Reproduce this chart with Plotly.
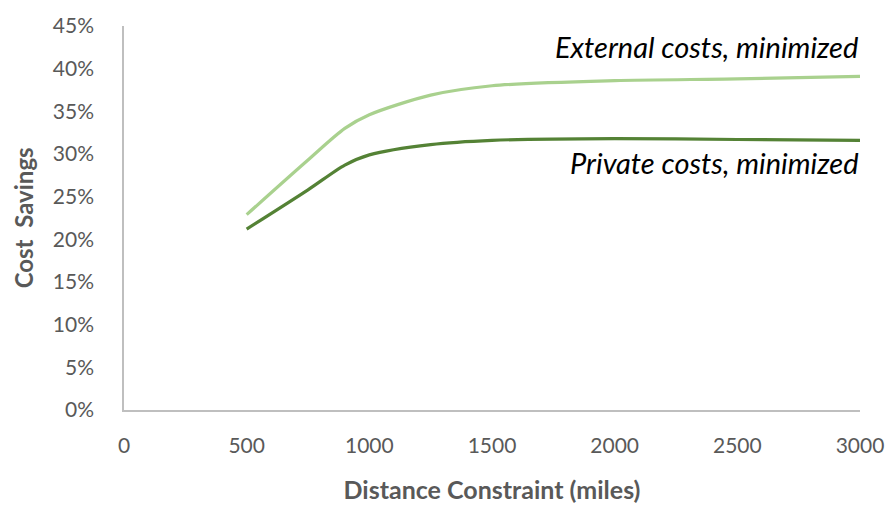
import plotly.graph_objects as go

# Distance constraint (miles) and cost savings (fraction) for the two scenarios
distance = [500, 750, 900, 1000, 1250, 1500, 2000, 2500, 3000]
external_savings = [0.229, 0.293, 0.330, 0.346, 0.369, 0.380, 0.386, 0.388, 0.391]
private_savings = [0.212, 0.258, 0.287, 0.299, 0.311, 0.316, 0.318, 0.317, 0.316]

x_ticks = [0, 500, 1000, 1500, 2000, 2500, 3000]
y_ticks = [0, 0.05, 0.10, 0.15, 0.20, 0.25, 0.30, 0.35, 0.40, 0.45]

FONT = "Lato, Carlito, 'Liberation Sans', sans-serif"
AXIS_GRAY = "#bfbfbf"
TEXT_GRAY = "#595959"

WIDTH, HEIGHT = 896, 512
MARGIN = dict(l=124, r=26, t=18, b=100)
plot_w = WIDTH - MARGIN["l"] - MARGIN["r"]

fig = go.Figure()
fig.add_trace(go.Scatter(
    x=distance, y=external_savings, mode="lines",
    line=dict(color="#a9d18e", width=3.2, shape="spline", smoothing=0.8),
    name="External costs, minimized", hoverinfo="skip",
))
fig.add_trace(go.Scatter(
    x=distance, y=private_savings, mode="lines",
    line=dict(color="#548235", width=3.2, shape="spline", smoothing=0.8),
    name="Private costs, minimized", hoverinfo="skip",
))

# Series labels, placed at the right end of each line
fig.add_annotation(
    x=1.0, y=external_savings[-1] + 0.035, xref="paper", yref="y",
    text="<i>External costs, minimized</i>", showarrow=False,
    xanchor="right", yanchor="middle",
    font=dict(family=FONT, size=29, color="#000000"),
)
fig.add_annotation(
    x=1.0, y=private_savings[-1] - 0.026, xref="paper", yref="y",
    text="<i>Private costs, minimized</i>", showarrow=False,
    xanchor="right", yanchor="middle",
    font=dict(family=FONT, size=29, color="#000000"),
)

# Vertical axis title
fig.add_annotation(
    x=-(MARGIN["l"] - 22) / plot_w, y=0.5, xref="paper", yref="paper",
    text="<b>Cost&nbsp;&nbsp;Savings</b>", showarrow=False, textangle=-90,
    xanchor="center", yanchor="middle",
    font=dict(family=FONT, size=24, color=TEXT_GRAY),
)

fig.update_xaxes(
    range=[0, 3000], tickvals=x_ticks, ticktext=[str(v) for v in x_ticks],
    showgrid=False, zeroline=False, showline=True, linecolor=AXIS_GRAY, linewidth=1.5,
    ticks="", ticklabelstandoff=16, ticklabeloverflow="allow",
    tickfont=dict(family=FONT, size=21, color=TEXT_GRAY),
    title=dict(text="<b>Distance Constraint (miles)</b>", standoff=26,
               font=dict(family=FONT, size=25, color=TEXT_GRAY)),
)
fig.update_yaxes(
    range=[0, 0.45], tickvals=y_ticks, tickformat=".0%",
    showgrid=False, zeroline=False, showline=True, linecolor=AXIS_GRAY, linewidth=1.5,
    ticks="", ticklabelstandoff=24,
    tickfont=dict(family=FONT, size=21, color=TEXT_GRAY),
)

fig.update_layout(
    width=WIDTH, height=HEIGHT,
    margin=MARGIN,
    plot_bgcolor="white", paper_bgcolor="white",
    showlegend=False,
)

fig.write_html("out.html")
